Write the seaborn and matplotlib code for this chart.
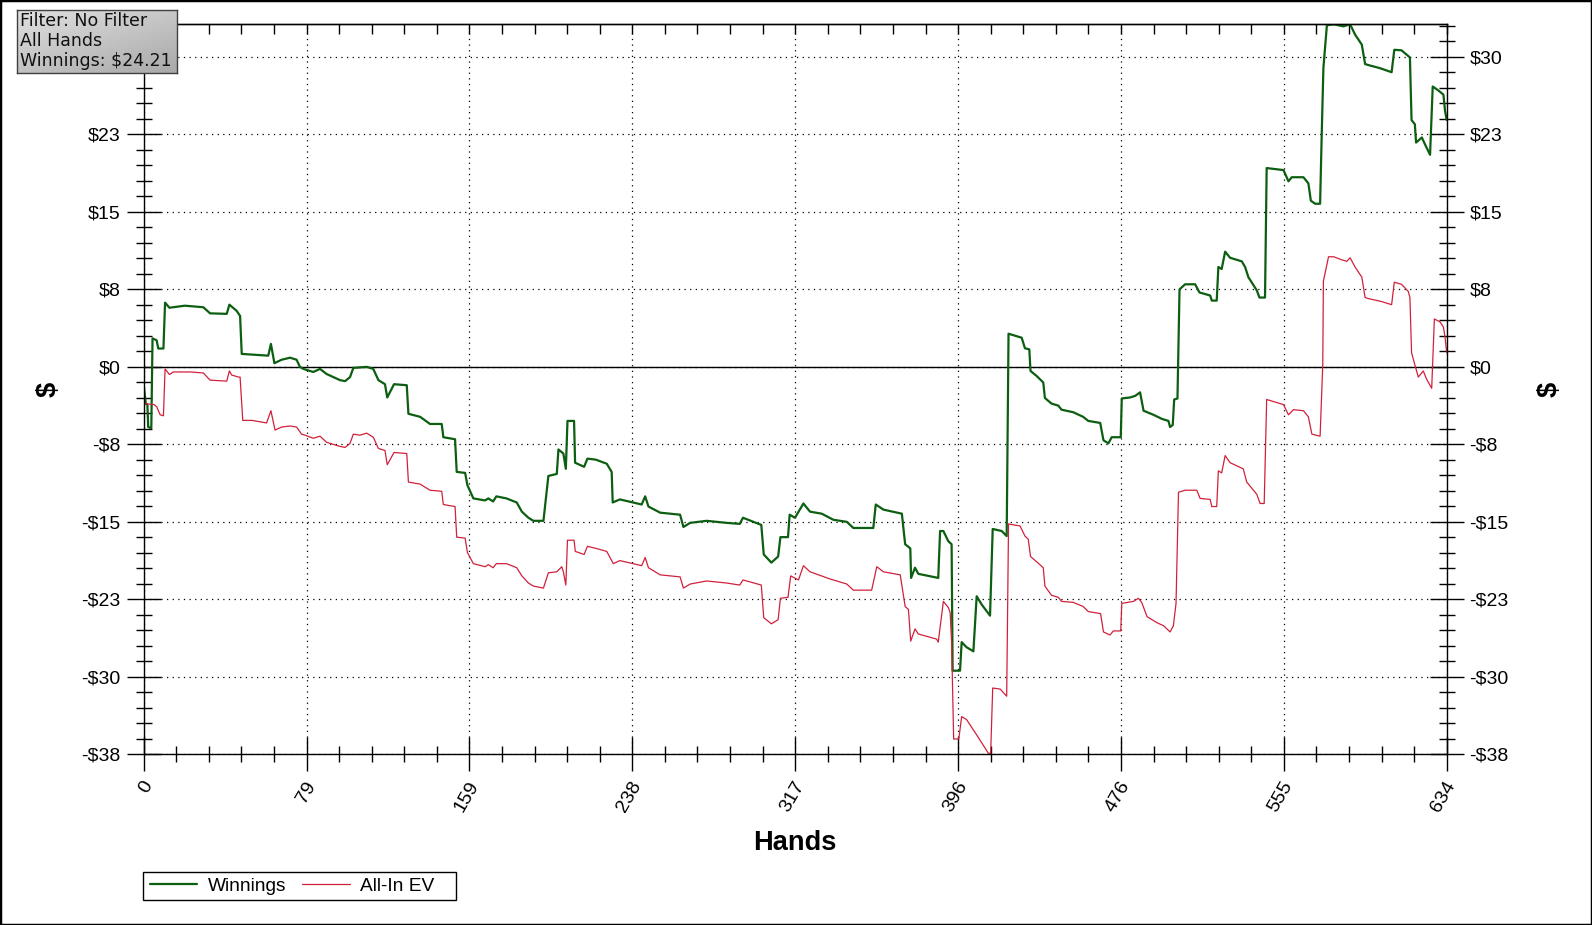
import numpy as np
import matplotlib
matplotlib.use("Agg")
import matplotlib.pyplot as plt
import matplotlib.transforms as mtrans
import seaborn as sns
from matplotlib.patches import Rectangle
from matplotlib.ticker import FixedLocator, FixedFormatter, MultipleLocator

# ── Data ──────────────────────────────────────────────────────────────────────
WIN_HANDS = [
    0, 1, 1.8, 2.2, 3.7, 4.3, 6.3, 7.1, 9.6, 10.4, 12.5, 20, 29, 32.3, 40.4,
    41.7, 45.2, 46.9, 47.7, 60.6, 61.9, 63.6, 67.1, 71.2, 74.4, 76, 77.7, 82.5,
    85.8, 89, 95.5, 98, 100.4, 102, 108.5, 111.7, 114.2, 117.4, 118.5, 121.8,
    128, 128.8, 134.5, 139.3, 145, 145.8, 151.5, 152.3, 156.4, 157.5, 160.4,
    166.1, 167.7, 170, 171.6, 176.5, 181.5, 184, 187.2, 189.6, 194.5, 196.9,
    201, 201.8, 204.2, 205.4, 206.2, 209.4, 209.9, 214.3, 215.9, 220, 225.3,
    227.7, 228.2, 231.7, 242.3, 244, 245.6, 251.3, 261, 262.6, 265.9, 273.9,
    283.6, 290, 291.6, 300.5, 301.7, 305.4, 308.7, 309.8, 313.5, 314.3, 316.9,
    321, 324.2, 329.9, 335.6, 342.1, 345.3, 355, 356.2, 359.9, 368.9, 370.5,
    373, 373.4, 375.3, 376.9, 386.6, 387.5, 389.1, 391.5, 393.1, 393.6, 397.2,
    398, 400.4, 403.7, 405.3, 407.7, 411.8, 413.1, 417.5, 419.9, 420.8, 423.2,
    427.2, 428.8, 430.9, 431.5, 434.4, 437.7, 438.5, 441.7, 445, 446.6, 452.3,
    457.1, 459.6, 465.4, 467, 469.4, 471, 475.4, 475.9, 479.9, 482.4, 484.8,
    486.5, 491.3, 495.4, 498.6, 499.4, 500.7, 501.4, 503, 504, 506.7, 511.6,
    513.7, 518.9, 519.7, 522.1, 522.9, 524.5, 526.2, 528.6, 534.3, 535.9,
    537.5, 541.6, 542.9, 545.6, 546.4, 550.5, 554.6, 557, 558.6, 564.3, 566.7,
    567.9, 570, 572.4, 573.2, 574, 575.7, 579, 583.7, 587, 589.4, 592.7, 594.3,
    595.9, 601.5, 607.2, 608.5, 612, 616.1, 616.9, 618.5, 619.1, 621.9, 623.5,
    625.9, 627.2, 630, 632.4, 633.2, 634,
]
WINNINGS = [
    -1.8, -3.6, -3.7, -5.9, -6.0, 2.8, 2.6, 1.8, 1.8, 6.3, 5.8, 6.0, 5.85,
    5.25, 5.2, 6.1, 5.5, 5.0, 1.27, 1.1, 2.25, 0.36, 0.7, 0.9, 0.7, 0.0, -0.2,
    -0.5, -0.2, -0.7, -1.3, -1.4, -1.0, -0.1, 0.0, -0.2, -1.3, -1.7, -3.0,
    -1.7, -1.8, -4.6, -4.9, -5.6, -5.6, -6.9, -7.1, -10.3, -10.4, -11.6,
    -12.9, -13.1, -12.9, -13.2, -12.7, -12.9, -13.3, -14.2, -14.8, -15.1,
    -15.1, -10.7, -10.5, -8.1, -8.5, -10.0, -5.3, -5.3, -9.4, -9.8, -9.0,
    -9.1, -9.5, -10.3, -13.3, -13.0, -13.5, -12.7, -13.7, -14.3, -14.5,
    -15.7, -15.3, -15.1, -15.3, -15.4, -14.8, -15.5, -18.4, -19.2, -18.6,
    -16.7, -16.7, -14.5, -14.8, -13.4, -14.2, -14.4, -15.0, -15.2, -15.8,
    -15.8, -13.5, -14.0, -14.4, -17.4, -17.8, -20.7, -19.7, -20.3, -20.7,
    -16.1, -16.1, -17.1, -17.4, -29.8, -29.8, -27.0, -27.5, -27.9, -22.5,
    -23.3, -24.4, -15.9, -16.1, -16.6, 3.25, 3.1, 2.86, 1.82, 1.72, -0.4,
    -0.88, -1.53, -3.05, -3.6, -3.8, -4.2, -4.45, -4.9, -5.3, -5.5, -7.2,
    -7.5, -6.9, -6.9, -3.1, -3.0, -2.85, -2.5, -4.3, -4.7, -5.1, -5.3, -5.9,
    -5.7, -3.2, -3.1, 7.6, 8.1, 8.1, 7.3, 7.0, 6.5, 6.5, 9.8, 9.6, 11.3,
    10.7, 10.35, 9.8, 8.8, 7.5, 6.8, 6.8, 19.5, 19.4, 19.3, 18.2, 18.6, 18.6,
    18.0, 16.3, 16.0, 16.0, 22.9, 29.3, 33.5, 33.6, 33.4, 33.6, 32.6, 31.6,
    29.7, 29.6, 29.3, 28.9, 31.1, 31.05, 30.35, 24.2, 23.8, 22.0, 22.5,
    21.8, 20.8, 27.5, 27.1, 26.7, 25.1, 24.21,
]

EV_HANDS = [
    0, 5, 6.3, 8, 9.6, 10.4, 12.5, 14.4, 22.7, 29, 32.3, 40.4, 41.7, 42.8,
    46.1, 46.9, 48.2, 52.7, 59.8, 61.9, 63.9, 67.1, 71.2, 74.4, 76.8, 78.5,
    82.5, 85.8, 89, 95.5, 98, 100.4, 102, 105.2, 108.5, 111.7, 114.2, 117.4,
    118.5, 121.8, 128, 128.8, 134.5, 139.3, 145, 145.8, 151.5, 152.3, 156.4,
    157.5, 160.4, 166.1, 167.7, 170, 171.6, 176.5, 181.5, 184, 187.2, 189.6,
    194.5, 196.9, 201, 203.4, 204.2, 205.4, 206.2, 209.4, 210, 214.3, 215.9,
    220, 225.3, 228.5, 231.7, 242.3, 244, 245.6, 251.3, 261, 262.6, 265.9,
    273.9, 283.6, 290, 291.6, 300.5, 301.7, 305.4, 308.7, 309.8, 313.5, 314.8,
    318.6, 321, 324.2, 333.9, 342.1, 345.3, 354.2, 356.7, 359.9, 368.1, 370.5,
    372.1, 373.2, 375.3, 376.9, 385.8, 386.6, 389.1, 391.5, 392.4, 393.1,
    394.1, 396.6, 398, 400.4, 405.3, 411, 412.1, 413.1, 416.7, 419.9, 420.8,
    423.2, 426.4, 428.8, 430.4, 431.5, 434.4, 437.7, 438.5, 441.7, 445,
    446.6, 452.3, 457.1, 459.6, 465.6, 467, 470.2, 471.8, 475.4, 475.9,
    481.6, 484, 485.6, 488.2, 493.1, 496.3, 499.4, 501, 502.3, 503.5, 506.7,
    512.4, 514, 518.9, 519.7, 522.1, 522.9, 524.5, 526.2, 528.6, 535, 536.7,
    541.6, 543.2, 545.2, 546.4, 551.3, 554.6, 557, 559.4, 564.3, 566.7,
    568.4, 572.4, 573.7, 574, 576.5, 579, 582.9, 585.4, 587, 589.4, 592.7,
    594.3, 595.9, 602.4, 607.2, 608.5, 612, 615.3, 616.1, 616.9, 618.5,
    620.2, 622.6, 624.2, 626.7, 628, 630.8, 632.4, 633.2, 634,
]
ALLIN_EV = [
    -3.6, -3.7, -3.9, -4.7, -4.8, -0.2, -0.75, -0.5, -0.5, -0.6, -1.3, -1.4,
    -0.4, -0.8, -1.0, -1.0, -5.25, -5.25, -5.5, -4.3, -6.2, -5.9, -5.8, -5.9,
    -6.6, -6.7, -7.0, -6.8, -7.4, -7.8, -7.9, -7.5, -6.6, -6.7, -6.5, -6.9,
    -8.0, -8.2, -9.6, -8.4, -8.5, -11.3, -11.5, -12.1, -12.2, -13.5, -13.7,
    -16.7, -16.8, -18.2, -19.3, -19.6, -19.4, -19.7, -19.3, -19.3, -19.7,
    -20.5, -21.2, -21.5, -21.7, -20.2, -20.1, -19.6, -20.1, -21.4, -17.0,
    -17.0, -18.1, -18.4, -17.6, -17.8, -18.1, -19.3, -19.0, -19.5, -18.7,
    -19.7, -20.4, -20.6, -21.7, -21.3, -21.0, -21.2, -21.4, -20.9, -21.4,
    -24.6, -25.2, -24.8, -22.7, -22.6, -20.5, -20.9, -19.5, -20.1, -20.8,
    -21.3, -21.9, -21.9, -19.6, -20.1, -20.4, -23.5, -23.8, -26.9, -25.7,
    -26.2, -26.7, -27.0, -23.0, -23.6, -24.1, -27.0, -36.5, -36.5, -34.3,
    -34.6, -36.1, -37.9, -37.9, -31.5, -31.6, -32.3, -15.4, -15.5, -15.6,
    -16.6, -16.9, -18.6, -19.1, -19.7, -21.5, -22.4, -22.6, -23.0, -23.1,
    -23.5, -24.0, -24.2, -26.0, -26.3, -25.9, -25.9, -23.2, -23.0, -22.7,
    -23.1, -24.5, -25.1, -25.4, -26.0, -25.4, -23.2, -12.3, -12.1, -12.1,
    -12.9, -13.0, -13.7, -13.7, -10.2, -10.4, -8.7, -9.4, -10.0, -11.3,
    -12.5, -13.4, -13.4, -3.2, -3.5, -3.7, -4.7, -4.2, -4.3, -4.9, -6.6,
    -6.8, 0.2, 8.4, 10.8, 10.8, 10.5, 10.35, 10.7, 9.8, 8.8, 6.8, 6.7, 6.4,
    6.1, 8.3, 8.1, 7.4, 6.8, 1.4, 0.2, -1.0, -0.4, -1.2, -2.1, 4.7, 4.4, 3.9,
    2.9, 1.4,
]

XTICK_LABELS = ["0", "79", "159", "238", "317", "396", "476", "555", "634"]
YTICK_LABELS = ["-$38", "-$30", "-$23", "-$15", "-$8", "$0", "$8", "$15", "$23", "$30"]
INFO_LINES = ["Filter: No Filter", "All Hands", "Winnings: $24.21"]

X_MAX = 634
Y_MIN, Y_MAX = -38.0, 33.6

# ── Style ─────────────────────────────────────────────────────────────────────
sns.set_theme(style="white")
plt.rcParams["font.family"] = ["Liberation Sans", "DejaVu Sans"]
plt.rcParams["text.color"] = "black"
plt.rcParams["xtick.color"] = "black"
plt.rcParams["ytick.color"] = "black"
plt.rcParams["xtick.labelcolor"] = "black"
plt.rcParams["ytick.labelcolor"] = "black"

W, H = 1592, 925
fig = plt.figure(figsize=(W / 100, H / 100), dpi=100)
fig.patch.set_facecolor("white")

L, R, T, B = 143.7, 1446.7, 24.3, 754.3
ax = fig.add_axes([L / W, 1 - B / H, (R - L) / W, (B - T) / H])
ax.set_facecolor("white")

GREEN = "#0c5e10"
RED = "#d0213b"

sns.lineplot(x=WIN_HANDS, y=WINNINGS, ax=ax, color=GREEN, linewidth=1.6,
             sort=False, estimator=None, label="Winnings")
sns.lineplot(x=EV_HANDS, y=ALLIN_EV, ax=ax, color=RED, linewidth=0.9,
             sort=False, estimator=None, label="All-In EV")

ax.set_xlim(0, X_MAX)
ax.set_ylim(Y_MIN, Y_MAX)

xt = np.linspace(0, X_MAX, len(XTICK_LABELS))
yt = np.linspace(Y_MIN, 30.4, len(YTICK_LABELS))
ax.xaxis.set_major_locator(FixedLocator(xt))
ax.xaxis.set_major_formatter(FixedFormatter(XTICK_LABELS))
ax.xaxis.set_minor_locator(MultipleLocator(X_MAX / 40))
ax.yaxis.set_major_locator(FixedLocator(yt))
ax.yaxis.set_major_formatter(FixedFormatter(YTICK_LABELS))
ax.yaxis.set_minor_locator(MultipleLocator(1.52))

ax.grid(which="major", color="black", linestyle=(0, (1, 3.5)), linewidth=0.9)
ax.axhline(0, color="black", linewidth=1.0, zorder=1.5)

for s in ax.spines.values():
    s.set_color("black")
    s.set_linewidth(1.0)

ax.tick_params(axis="y", which="both", direction="inout", left=True, right=True,
               labelleft=True, labelright=True, color="black", width=1.0,
               labelsize=14, pad=4, labelcolor="black")
ax.tick_params(axis="y", which="major", length=25)
ax.tick_params(axis="y", which="minor", length=11)
ax.tick_params(axis="x", which="both", direction="inout", bottom=True, top=False,
               color="black", width=1.0, labelsize=14, pad=8, labelcolor="black")
ax.tick_params(axis="x", which="major", length=25)
ax.tick_params(axis="x", which="minor", length=11)

# left "$30" sits under the info box in the reference
ax.yaxis.get_major_ticks()[-1].label1.set_visible(False)

shift = mtrans.ScaledTranslation(5 / 100, 0, fig.dpi_scale_trans)
for lab in ax.get_xticklabels():
    lab.set_rotation(60)
    lab.set_ha("right")
    lab.set_va("center")
    lab.set_rotation_mode("anchor")
    lab.set_transform(lab.get_transform() + shift)

top = ax.secondary_xaxis("top")
top.xaxis.set_major_locator(FixedLocator(xt))
top.xaxis.set_minor_locator(MultipleLocator(X_MAX / 40))
top.tick_params(which="both", direction="in", length=7, width=1.0,
                labeltop=False, color="black")
top.spines["top"].set_linewidth(1.0)

ax.set_xlabel("")
ax.set_ylabel("")
fig.text(795 / W, 1 - 843 / H, "Hands", ha="center", va="center",
         fontsize=19.6, fontweight="bold")
fig.text(49 / W, 1 - 389 / H, "$", ha="center", va="center", rotation=90,
         fontsize=19.6, fontweight="bold")
fig.text(1550 / W, 1 - 389 / H, "$", ha="center", va="center", rotation=90,
         fontsize=19.6, fontweight="bold")

# ── Legend (frame drawn as its own box) ───────────────────────────────────────
handles, labels = ax.get_legend_handles_labels()
ax.get_legend().remove()
fig.legend(handles, labels, loc="center left",
           bbox_to_anchor=(149.5 / W, 1 - 886 / H), ncol=2, frameon=False,
           fontsize=13.8, borderaxespad=0, borderpad=0,
           handlelength=2.5, handletextpad=0.55, columnspacing=0.8)
fig.patches.append(Rectangle((143.2 / W, 1 - 899.6 / H), (455.9 - 143.2) / W,
                             (899.6 - 872) / H, transform=fig.transFigure,
                             fill=False, edgecolor="black", linewidth=1.0))

# ── Info box (gradient) ───────────────────────────────────────────────────────
bx0, by0, bx1, by1 = 16.7, 10, 176.7, 73.3
ax_info = fig.add_axes([bx0 / W, 1 - by1 / H, (bx1 - bx0) / W, (by1 - by0) / H])
gx, gy = np.meshgrid(np.linspace(0, 1, 200), np.linspace(0, 1, 80))
grad = 0.88 - 0.22 * (0.45 * gx + 0.55 * gy)
ax_info.imshow(grad, cmap="gray", vmin=0, vmax=1, aspect="auto",
               extent=(0, 1, 1, 0))
ax_info.set_xticks([])
ax_info.set_yticks([])
for s in ax_info.spines.values():
    s.set_color("#404040")
    s.set_linewidth(1.0)
for i, line in enumerate(INFO_LINES):
    fig.text(19.5 / W, 1 - (21 + 20 * i) / H, line, ha="left", va="center",
             fontsize=12.5, color="#111111", family=["DejaVu Sans"])

# ── Outer frame ───────────────────────────────────────────────────────────────
fig.patches.append(Rectangle((0, 0), 1, 1, transform=fig.transFigure,
                             fill=False, edgecolor="black", linewidth=2.5))

plt.savefig("out.png", dpi=100)
plt.close()
